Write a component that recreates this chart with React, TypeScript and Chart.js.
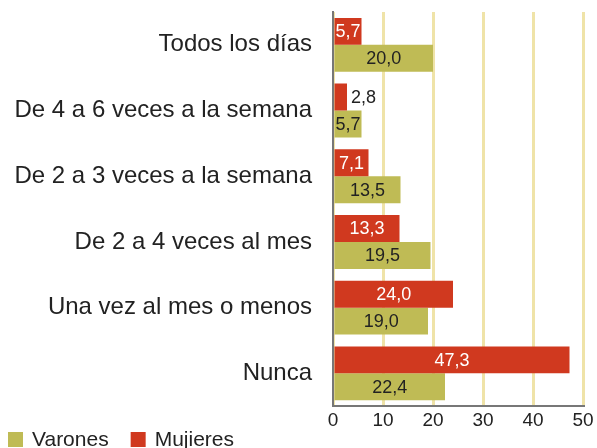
import React, { useEffect, useRef } from "react";
import { Chart, registerables } from "chart.js";

Chart.register(...registerables);

const categories = [
  "Todos los días",
  "De 4 a 6 veces a la semana",
  "De 2 a 3 veces a la semana",
  "De 2 a 4 veces al mes",
  "Una vez al mes o menos",
  "Nunca",
];
const mujeres = [5.7, 2.8, 7.1, 13.3, 24.0, 47.3];
const varones = [20.0, 5.7, 13.5, 19.5, 19.0, 22.4];
const seriesNames = ["Mujieres", "Varones"];
const xTicks = [0, 10, 20, 30, 40, 50];

const RED = "#d0391f";
const GREEN = "#bfbb55";
const FONT = "'Liberation Sans', Arial, sans-serif";

const valueLabels = {
  id: "valueLabels",
  afterDatasetsDraw(chart: any) {
    const ctx = chart.ctx;
    ctx.save();
    ctx.font = `18px ${FONT}`;
    ctx.textBaseline = "middle";
    chart.data.datasets.forEach((ds: any, di: number) => {
      const meta = chart.getDatasetMeta(di);
      meta.data.forEach((bar: any, i: number) => {
        const v = ds.data[i] as number;
        const txt = v.toFixed(1).replace(".", ",");
        const w = ctx.measureText(txt).width;
        const left = bar.base;
        const right = bar.x;
        const bw = right - left;
        if (w <= bw + 2) {
          ctx.textAlign = "center";
          ctx.fillStyle = di === 0 ? "#ffffff" : "#222222";
          ctx.fillText(txt, (left + right) / 2, bar.y + 1);
        } else {
          ctx.textAlign = "left";
          ctx.fillStyle = "#222222";
          ctx.fillText(txt, right + 4, bar.y + 1);
        }
      });
    });
    ctx.restore();
  },
};

const customLegend = {
  id: "customLegend",
  afterDraw(chart: any) {
    const ctx = chart.ctx;
    ctx.save();
    ctx.font = `21px ${FONT}`;
    ctx.textBaseline = "middle";
    ctx.textAlign = "left";
    const order = [1, 0];
    let x = 8;
    const boxTop = 432;
    const box = 15;
    order.forEach((di) => {
      const ds = chart.data.datasets[di];
      ctx.fillStyle = ds.backgroundColor;
      ctx.fillRect(x, boxTop, box, box);
      x += box + 9;
      ctx.fillStyle = "#222222";
      ctx.fillText(ds.label, x, boxTop + box / 2 + 1);
      x += ctx.measureText(ds.label).width + 22;
    });
    ctx.restore();
  },
};

export default function App() {
  const ref = useRef<HTMLCanvasElement | null>(null);
  useEffect(() => {
    document.body.style.margin = "0";
    if (!ref.current) return;
    const chart = new Chart(ref.current, {
      type: "bar",
      data: {
        labels: categories,
        datasets: [
          {
            label: seriesNames[0],
            data: mujeres,
            backgroundColor: RED,
            categoryPercentage: 0.82,
            barPercentage: 1.0,
          },
          {
            label: seriesNames[1],
            data: varones,
            backgroundColor: GREEN,
            categoryPercentage: 0.82,
            barPercentage: 1.0,
          },
        ],
      },
      options: {
        indexAxis: "y",
        responsive: false,
        animation: false,
        layout: { padding: { top: 12, right: 14, left: 0, bottom: 13 } },
        plugins: {
          tooltip: { enabled: false },
          legend: { display: false },
        },
        scales: {
          x: {
            min: 0,
            max: 50,
            afterBuildTicks: (axis: any) => {
              axis.ticks = xTicks.map((v) => ({ value: v }));
            },
            grid: {
              color: "#efe3a8",
              lineWidth: 3,
              drawTicks: false,
            },
            border: { color: "#777", width: 2 },
            ticks: {
              color: "#222",
              padding: 3,
              font: { family: FONT, size: 19 },
            },
          },
          y: {
            afterFit: (scale: any) => {
              scale.width = 333;
              scale.paddingTop = 0;
              scale.paddingBottom = 0;
            },
            grid: { display: false, drawTicks: false },
            border: { color: "#777", width: 2 },
            ticks: {
              color: "#222",
              padding: 21,
              font: { family: FONT, size: 24 },
            },
          },
        },
      },
      plugins: [valueLabels, customLegend],
    });
    return () => chart.destroy();
  }, []);
  return (
    <div style={{ width: 597, height: 448 }}>
      <canvas ref={ref} width={597} height={448} />
    </div>
  );
}
